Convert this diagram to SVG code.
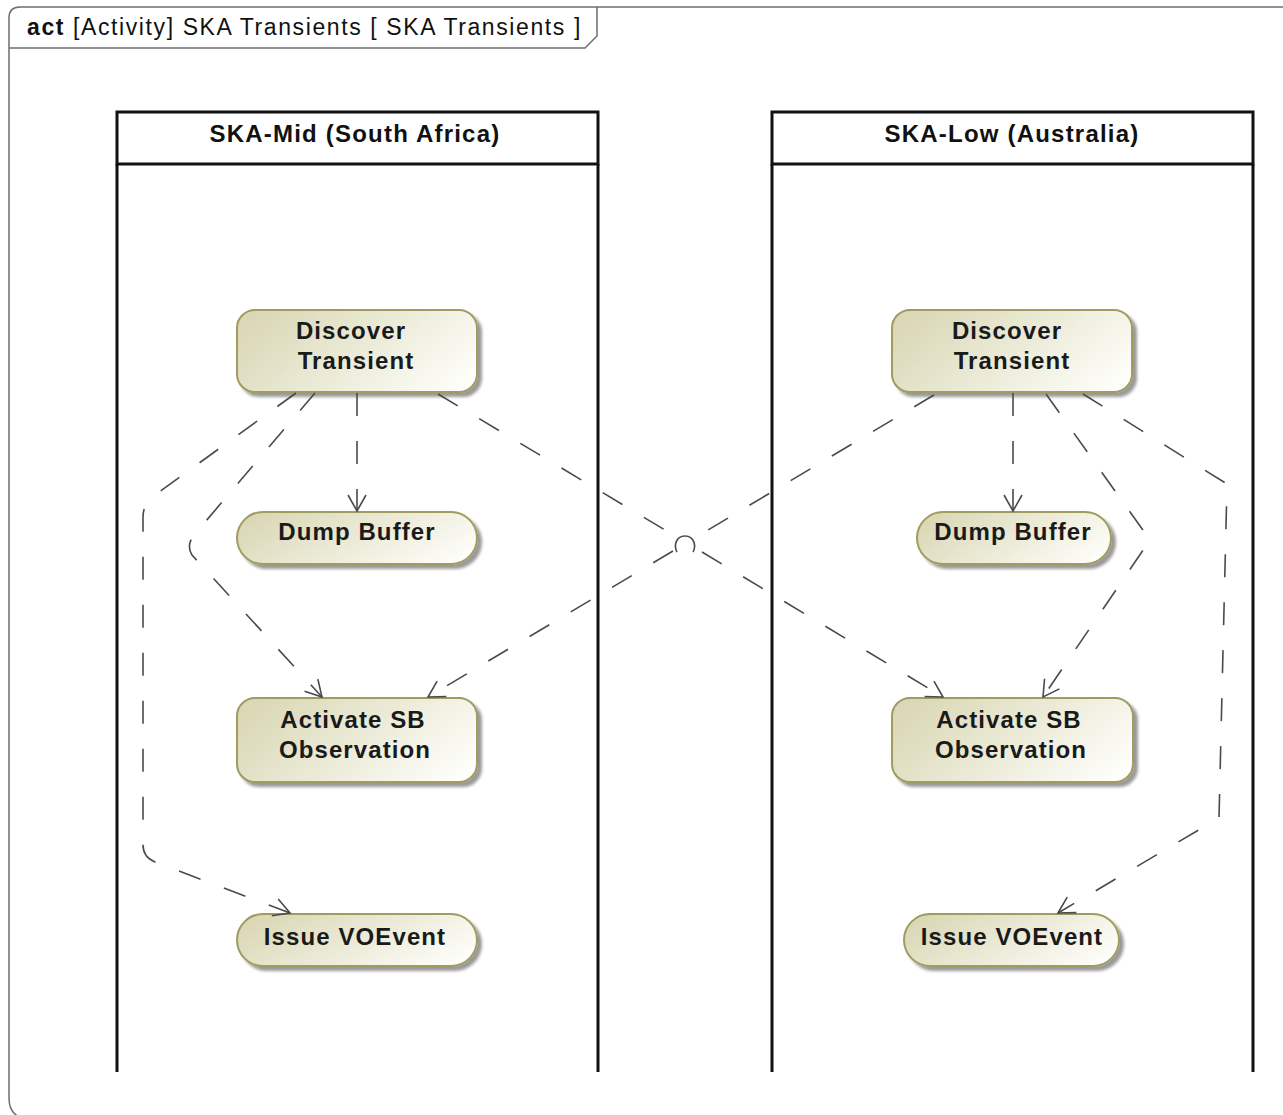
<svg xmlns="http://www.w3.org/2000/svg" width="1283" height="1115" viewBox="0 0 1283 1115">
<style>
  .frame { fill: none; stroke: #6e6e6e; stroke-width: 1.5; }
  .ftitle { font-family: "Liberation Sans", Arial, sans-serif; font-size: 23px; letter-spacing: 1.6px; fill: #111; }
  .lane { fill: none; stroke: #111; stroke-width: 3; }
  .lanetitle { font-family: "Liberation Sans", Arial, sans-serif; font-weight: bold; font-size: 24px; letter-spacing: 1.2px; fill: #111; text-anchor: middle; }
  .node rect { fill: url(#nodeFill); stroke: #a09b5f; stroke-width: 2; filter: url(#shadow); }
  .node text { font-family: "Liberation Sans", Arial, sans-serif; font-weight: bold; font-size: 24px; letter-spacing: 1.1px; fill: #1a1a1a; text-anchor: middle; }
  .conn path { fill: none; stroke: #4a4a4a; stroke-width: 1.6; stroke-dasharray: 23 25; }
  .conn path.hop { stroke-dasharray: none; }
  .arrowhead { fill: none; stroke: #4a4a4a; stroke-width: 1.6; }
</style>
<defs>
  <linearGradient id="nodeFill" x1="0" y1="0.3" x2="1" y2="0.7">
    <stop offset="0" stop-color="#dad8b6"/>
    <stop offset="1" stop-color="#fdfdf9"/>
  </linearGradient>
  <filter id="shadow" x="-10%" y="-10%" width="130%" height="140%">
    <feGaussianBlur in="SourceAlpha" stdDeviation="1.5"/>
    <feOffset dx="4" dy="4" result="off"/>
    <feComponentTransfer><feFuncA type="linear" slope="0.4"/></feComponentTransfer>
    <feMerge><feMergeNode/><feMergeNode in="SourceGraphic"/></feMerge>
  </filter>
  <marker id="arr" markerUnits="userSpaceOnUse" viewBox="-18 -11 20 22" refX="0" refY="0" markerWidth="20" markerHeight="22" orient="auto">
    <path class="arrowhead" d="M -16 -9 L 0 0 L -16 9"/>
  </marker>
</defs>

<g id="frame">
  <path class="frame" d="M 1290 7 H 20 Q 9 7 9 18 V 1098 Q 9 1114 22 1118"/>
  <path class="frame" d="M 9 48 H 585 L 597 36 V 7"/>
  <text class="ftitle" x="27" y="35"><tspan font-weight="bold">act</tspan> [Activity] SKA Transients [ SKA Transients ]</text>
</g>

<g id="lane-mid">
  <rect class="lane" x="117" y="112" width="481" height="52"/>
  <path class="lane" d="M 117 164 V 1072 M 598 164 V 1072"/>
  <text class="lanetitle" x="355" y="142">SKA-Mid (South Africa)</text>
</g>
<g id="lane-low">
  <rect class="lane" x="772" y="112" width="481" height="52"/>
  <path class="lane" d="M 772 164 V 1072 M 1253 164 V 1072"/>
  <text class="lanetitle" x="1012" y="142">SKA-Low (Australia)</text>
</g>

<g id="mid-discover" class="node">
  <rect x="237" y="310" width="240" height="82" rx="18"/>
  <text x="351" y="339">Discover</text>
  <text x="356" y="369">Transient</text>
</g>
<g id="mid-dump" class="node">
  <rect x="237" y="512" width="240" height="52" rx="26"/>
  <text x="357" y="540">Dump Buffer</text>
</g>
<g id="mid-activate" class="node">
  <rect x="237" y="698" width="240" height="84" rx="18"/>
  <text x="353" y="728">Activate SB</text>
  <text x="355" y="758">Observation</text>
</g>
<g id="mid-issue" class="node">
  <rect x="237" y="914" width="240" height="52" rx="26"/>
  <text x="355" y="945">Issue VOEvent</text>
</g>

<g id="low-discover" class="node">
  <rect x="892" y="310" width="240" height="82" rx="18"/>
  <text x="1007" y="339">Discover</text>
  <text x="1012" y="369">Transient</text>
</g>
<g id="low-dump" class="node">
  <rect x="917" y="512" width="194" height="52" rx="26"/>
  <text x="1013" y="540">Dump Buffer</text>
</g>
<g id="low-activate" class="node">
  <rect x="892" y="698" width="241" height="84" rx="18"/>
  <text x="1009" y="728">Activate SB</text>
  <text x="1011" y="758">Observation</text>
</g>
<g id="low-issue" class="node">
  <rect x="904" y="914" width="215" height="52" rx="26"/>
  <text x="1012" y="945">Issue VOEvent</text>
</g>

<g id="connectors" class="conn">
  <path d="M 357 393 L 357 511" marker-end="url(#arr)"/>
  <path d="M 315 393 L 194 535 Q 186 545 192 555 L 322 697" marker-end="url(#arr)"/>
  <path d="M 296 393 L 155 495 Q 143 503 143 517 V 845 Q 143 857 155 862 L 290 913" marker-end="url(#arr)"/>
  <path d="M 438 394 L 670 533 M 702 552 L 943 697" marker-end="url(#arr)"/>
  <path d="M 934 395 L 698 536 M 673 551 L 428 697" marker-end="url(#arr)"/>
  <path class="hop" d="M 677 552 C 674 547 675 536 685 536 C 695 536 696 547 693 552"/>
  <path d="M 1013 393 L 1013 511" marker-end="url(#arr)"/>
  <path d="M 1046 394 L 1150 540 L 1043 697" marker-end="url(#arr)"/>
  <path d="M 1083 394 L 1227 484 L 1219 818 L 1058 913" marker-end="url(#arr)"/>
</g>
</svg>
